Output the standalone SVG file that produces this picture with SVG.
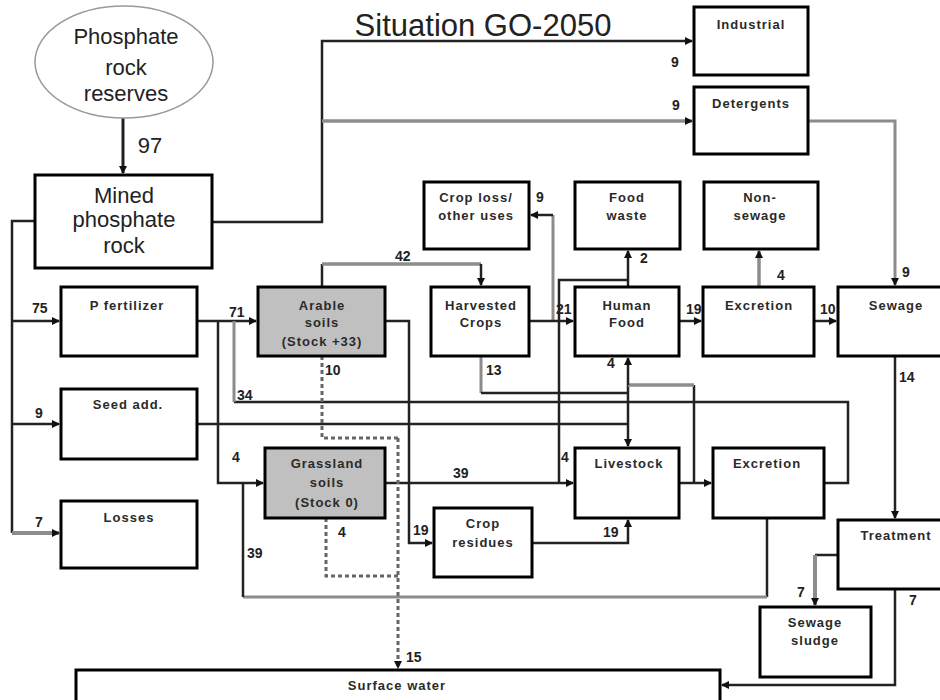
<svg xmlns="http://www.w3.org/2000/svg" width="940" height="700" viewBox="0 0 940 700">
<style>
.box{fill:#fff;stroke:#000;stroke-width:3}
.soil{fill:#c0c0c0;stroke:#000;stroke-width:3}
.t{font-family:"Liberation Sans",Arial,sans-serif;font-size:13px;font-weight:bold;fill:#2a2a2a;text-anchor:middle;letter-spacing:1px}
.big{font-family:"Liberation Sans",Arial,sans-serif;font-size:22px;fill:#222;text-anchor:middle}
.lbl{font-family:"Liberation Sans",Arial,sans-serif;font-size:14px;font-weight:bold;fill:#222}
.ln{fill:none;stroke:#222;stroke-width:2.5}
.gr{fill:none;stroke:#8c8c8c;stroke-width:3.5}
.ds{fill:none;stroke:#666;stroke-width:3;stroke-dasharray:4 3}
</style>
<defs>
<marker id="a" markerWidth="8" markerHeight="8" refX="7" refY="4" orient="auto" markerUnits="userSpaceOnUse">
<path d="M0,0 L8,4 L0,8 z" fill="#111"/>
</marker>
</defs>

<text x="483" y="36" style="font-family:'Liberation Sans',Arial,sans-serif;font-size:31px;fill:#222;text-anchor:middle">Situation GO-2050</text>

<g id="connectors">
<!-- reserves to mined -->
<path class="ln" d="M123,118 V173" marker-end="url(#a)" style="stroke-width:3"/>
<!-- mined to industrial -->
<path class="ln" d="M212,222 H322 V41 H692" marker-end="url(#a)"/>
<!-- to detergents -->
<path class="gr" d="M322,121 H692" marker-end="url(#a)"/>
<!-- detergents to sewage -->
<path class="gr" d="M808,121 H895 V285" marker-end="url(#a)" style="stroke-width:3"/>
<!-- left bus -->
<path class="ln" d="M35,221 H12 V533"/>
<path class="ln" d="M12,321 H59" marker-end="url(#a)"/>
<path class="ln" d="M12,424 H59" marker-end="url(#a)"/>
<path class="gr" d="M12,533 H59" marker-end="url(#a)" style="stroke-width:4"/>
<!-- P fertilizer to arable -->
<path class="ln" d="M197,321 H256" marker-end="url(#a)"/>
<!-- branch to grassland -->
<path class="ln" d="M218,321 V483 H263" marker-end="url(#a)"/>
<!-- 34 loop -->
<path class="ln" d="M824,483 H848 V402 H234"/>
<path class="gr" d="M234,402 V321" style="stroke-width:3"/>
<!-- seed line -->
<path class="ln" d="M197,424 H628"/>
<!-- harvested bottom to livestock -->
<path class="gr" d="M481,356 V393" style="stroke-width:3"/>
<path class="ln" d="M481,393 H628"/>
<path class="ln" d="M628,385 V446" marker-end="url(#a)"/>
<!-- livestock to human food -->
<path class="ln" d="M694,483 V385"/>
<path class="gr" d="M694,385 H628"/>
<path class="ln" d="M628,385 V358" marker-end="url(#a)"/>
<!-- livestock to excretion -->
<path class="ln" d="M679,483 H711" marker-end="url(#a)"/>
<!-- food waste -->
<path class="ln" d="M628,287 V251" marker-end="url(#a)"/>
<path class="ln" d="M559,483 V280 H628"/>
<!-- crop loss -->
<path class="gr" d="M553,321 V215" style="stroke-width:3"/>
<path class="ln" d="M553,215 H531" marker-end="url(#a)"/>
<!-- harvested to human food -->
<path class="ln" d="M529,321 H573" marker-end="url(#a)"/>
<!-- arable to harvested -->
<path class="ln" d="M322,287 V264"/>
<path class="gr" d="M322,264 H481"/>
<path class="ln" d="M481,264 V285" marker-end="url(#a)"/>
<!-- arable to crop residues -->
<path class="ln" d="M385,321 H409 V543 H432" marker-end="url(#a)"/>
<!-- crop residues to livestock -->
<path class="ln" d="M532,543 H628 V520" marker-end="url(#a)"/>
<!-- grassland to livestock -->
<path class="ln" d="M385,483 H573" marker-end="url(#a)"/>
<!-- livestock excretion back to grassland -->
<path class="ln" d="M767,518 V597"/>
<path class="gr" d="M767,597 H243" style="stroke-width:3"/>
<path class="ln" d="M243,597 V483"/>
<!-- human food to excretion to sewage -->
<path class="ln" d="M679,321 H701" marker-end="url(#a)"/>
<path class="ln" d="M814,321 H836" marker-end="url(#a)"/>
<!-- excretion to non-sewage -->
<path class="gr" d="M759,287 V251" marker-end="url(#a)"/>
<!-- sewage to treatment -->
<path class="ln" d="M895,356 V518" marker-end="url(#a)"/>
<!-- treatment to sludge -->
<path class="ln" d="M838,555 H815"/>
<path class="gr" d="M815,555 V605" marker-end="url(#a)" style="stroke-width:4"/>
<!-- treatment to surface water -->
<path class="ln" d="M895,589 V685 H722" marker-end="url(#a)"/>
<!-- dashed to surface water -->
<path class="ds" d="M322,356 V438 H398"/>
<path class="ds" d="M326,518 V576 H398"/>
<path class="ds" d="M398,438 V668" marker-end="url(#a)"/>
</g>

<g id="labels">
<text class="big" x="150" y="153" style="font-size:22px">97</text>
<text class="lbl" x="671" y="67">9</text>
<text class="lbl" x="672" y="110">9</text>
<text class="lbl" x="902" y="277">9</text>
<text class="lbl" x="777" y="280">4</text>
<text class="lbl" x="640" y="263">2</text>
<text class="lbl" x="536" y="202">9</text>
<text class="lbl" x="395" y="261">42</text>
<text class="lbl" x="32" y="313">75</text>
<text class="lbl" x="229" y="317">71</text>
<text class="lbl" x="556" y="314">21</text>
<text class="lbl" x="686" y="314">19</text>
<text class="lbl" x="820" y="314">10</text>
<text class="lbl" x="486" y="375">13</text>
<text class="lbl" x="325" y="375">10</text>
<text class="lbl" x="607" y="368">4</text>
<text class="lbl" x="899" y="382">14</text>
<text class="lbl" x="237" y="400">34</text>
<text class="lbl" x="35" y="418">9</text>
<text class="lbl" x="232" y="462">4</text>
<text class="lbl" x="561" y="462">4</text>
<text class="lbl" x="453" y="478">39</text>
<text class="lbl" x="413" y="535">19</text>
<text class="lbl" x="603" y="537">19</text>
<text class="lbl" x="338" y="537">4</text>
<text class="lbl" x="247" y="558">39</text>
<text class="lbl" x="35" y="527">7</text>
<text class="lbl" x="797" y="597">7</text>
<text class="lbl" x="909" y="605">7</text>
<text class="lbl" x="406" y="662">15</text>
</g>

<g id="reserves">
<ellipse cx="124" cy="62" rx="89" ry="56" fill="#fff" stroke="#999" stroke-width="1.5"/>
<text class="big" x="126" y="44">Phosphate</text>
<text class="big" x="126" y="75">rock</text>
<text class="big" x="126" y="101">reserves</text>
</g>

<g id="mined">
<rect class="box" x="35" y="175" width="177" height="93"/>
<text class="big" x="124" y="203">Mined</text>
<text class="big" x="124" y="227">phosphate</text>
<text class="big" x="124" y="253">rock</text>
</g>

<g id="industrial">
<rect class="box" x="694" y="7" width="114" height="68"/>
<text class="t" x="751" y="29">Industrial</text>
</g>

<g id="detergents">
<rect class="box" x="694" y="87" width="114" height="67"/>
<text class="t" x="751" y="108">Detergents</text>
</g>

<g id="croploss">
<rect class="box" x="424" y="182" width="105" height="67"/>
<text class="t" x="476" y="202">Crop loss/</text>
<text class="t" x="476" y="220">other uses</text>
</g>

<g id="foodwaste">
<rect class="box" x="575" y="182" width="105" height="67"/>
<text class="t" x="627" y="202">Food</text>
<text class="t" x="627" y="220">waste</text>
</g>

<g id="nonsewage">
<rect class="box" x="704" y="182" width="114" height="67"/>
<text class="t" x="760" y="202">Non-</text>
<text class="t" x="760" y="220">sewage</text>
</g>

<g id="pfertilizer">
<rect class="box" x="61" y="287" width="136" height="69"/>
<text class="t" x="127" y="310">P fertilizer</text>
</g>

<g id="arable">
<rect class="soil" x="258" y="287" width="127" height="69"/>
<text class="t" x="322" y="310">Arable</text>
<text class="t" x="322" y="327">soils</text>
<text class="t" x="322" y="346">(Stock +33)</text>
</g>

<g id="harvested">
<rect class="box" x="431" y="287" width="98" height="69"/>
<text class="t" x="481" y="310">Harvested</text>
<text class="t" x="481" y="327">Crops</text>
</g>

<g id="humanfood">
<rect class="box" x="575" y="287" width="104" height="69"/>
<text class="t" x="627" y="310">Human</text>
<text class="t" x="627" y="327">Food</text>
</g>

<g id="excretion1">
<rect class="box" x="703" y="287" width="111" height="69"/>
<text class="t" x="759" y="310">Excretion</text>
</g>

<g id="sewage">
<rect class="box" x="838" y="287" width="112" height="69"/>
<text class="t" x="896" y="310">Sewage</text>
</g>

<g id="seed">
<rect class="box" x="61" y="389" width="136" height="70"/>
<text class="t" x="128" y="409">Seed add.</text>
</g>

<g id="grassland">
<rect class="soil" x="265" y="448" width="120" height="70"/>
<text class="t" x="327" y="468">Grassland</text>
<text class="t" x="327" y="487">soils</text>
<text class="t" x="327" y="507">(Stock 0)</text>
</g>

<g id="livestock">
<rect class="box" x="575" y="448" width="104" height="70"/>
<text class="t" x="629" y="468">Livestock</text>
</g>

<g id="excretion2">
<rect class="box" x="713" y="448" width="111" height="70"/>
<text class="t" x="767" y="468">Excretion</text>
</g>

<g id="losses">
<rect class="box" x="61" y="501" width="136" height="67"/>
<text class="t" x="129" y="522">Losses</text>
</g>

<g id="cropresidues">
<rect class="box" x="434" y="508" width="98" height="69"/>
<text class="t" x="483" y="528">Crop</text>
<text class="t" x="483" y="547">residues</text>
</g>

<g id="treatment">
<rect class="box" x="838" y="520" width="112" height="69"/>
<text class="t" x="896" y="540">Treatment</text>
</g>

<g id="sludge">
<rect class="box" x="760" y="607" width="111" height="70"/>
<text class="t" x="815" y="627">Sewage</text>
<text class="t" x="815" y="645">sludge</text>
</g>

<g id="surfacewater">
<rect class="box" x="76" y="670" width="644" height="60"/>
<text class="t" x="397" y="690">Surface water</text>
</g>
</svg>
